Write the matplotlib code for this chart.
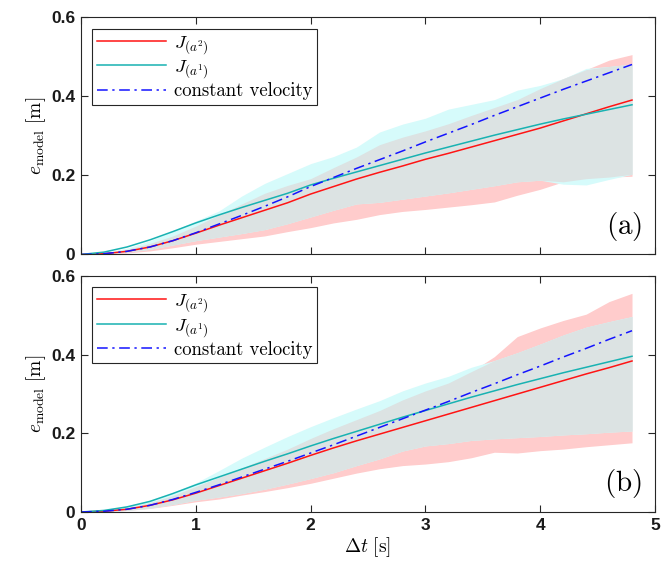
import numpy as np
import matplotlib
matplotlib.use("Agg")
import matplotlib.pyplot as plt

plt.rcParams['mathtext.fontset'] = 'cm'

# time grid (s)
t = [0.0, 0.2, 0.4, 0.6, 0.8, 1.0, 1.2, 1.4, 1.6, 1.8, 2.0, 2.2, 2.4,
     2.6, 2.8, 3.0, 3.2, 3.4, 3.6, 3.8, 4.0, 4.2, 4.4, 4.6, 4.8]

# ---- panel (a) ----
red_a = [0, 0.002, 0.008, 0.019, 0.035, 0.054, 0.074, 0.093, 0.112, 0.131, 0.153, 0.172, 0.191,
         0.208, 0.224, 0.241, 0.256, 0.272, 0.288, 0.304, 0.320, 0.338, 0.356, 0.374, 0.391]
teal_a = [0, 0.006, 0.019, 0.037, 0.058, 0.080, 0.100, 0.119, 0.137, 0.155, 0.176, 0.193, 0.209,
          0.225, 0.241, 0.257, 0.272, 0.287, 0.302, 0.316, 0.330, 0.343, 0.355, 0.367, 0.379]
blue_a = [0, 0.002, 0.008, 0.019, 0.035, 0.055, 0.077, 0.099, 0.122, 0.146, 0.172, 0.195, 0.218,
          0.240, 0.262, 0.285, 0.307, 0.329, 0.352, 0.374, 0.396, 0.418, 0.439, 0.460, 0.481]
red_lo_a = [0, 0.001, 0.004, 0.009, 0.017, 0.026, 0.033, 0.040, 0.047, 0.058, 0.068, 0.080, 0.089,
            0.101, 0.109, 0.114, 0.120, 0.126, 0.133, 0.150, 0.165, 0.184, 0.192, 0.196, 0.198]
red_hi_a = [0, 0.003, 0.013, 0.028, 0.047, 0.072, 0.100, 0.128, 0.155, 0.175, 0.192, 0.220, 0.247,
            0.278, 0.297, 0.313, 0.331, 0.352, 0.372, 0.392, 0.420, 0.445, 0.468, 0.492, 0.506]
cyan_lo_a = [0, 0.002, 0.006, 0.013, 0.024, 0.035, 0.044, 0.053, 0.063, 0.078, 0.095, 0.112, 0.128,
             0.132, 0.140, 0.148, 0.156, 0.165, 0.174, 0.184, 0.188, 0.178, 0.176, 0.190, 0.203]
cyan_hi_a = [0, 0.004, 0.016, 0.035, 0.060, 0.085, 0.110, 0.148, 0.180, 0.205, 0.230, 0.248, 0.272,
             0.310, 0.330, 0.345, 0.368, 0.380, 0.392, 0.416, 0.428, 0.445, 0.471, 0.476, 0.482]

# ---- panel (b) ----
red_b = [0, 0.002, 0.007, 0.017, 0.031, 0.048, 0.067, 0.086, 0.105, 0.124, 0.144, 0.163, 0.181,
         0.198, 0.215, 0.232, 0.249, 0.266, 0.283, 0.300, 0.317, 0.334, 0.351, 0.367, 0.384]
teal_b = [0, 0.004, 0.013, 0.027, 0.047, 0.069, 0.089, 0.109, 0.129, 0.148, 0.168, 0.187, 0.205,
          0.223, 0.241, 0.258, 0.275, 0.292, 0.308, 0.324, 0.339, 0.354, 0.368, 0.382, 0.396]
blue_b = [0, 0.002, 0.007, 0.017, 0.032, 0.050, 0.069, 0.089, 0.109, 0.129, 0.150, 0.171, 0.193,
          0.215, 0.237, 0.259, 0.281, 0.304, 0.326, 0.349, 0.371, 0.394, 0.416, 0.439, 0.461]
red_lo_b = [0, 0.001, 0.004, 0.009, 0.017, 0.026, 0.033, 0.043, 0.052, 0.062, 0.073, 0.086, 0.099,
            0.110, 0.118, 0.122, 0.128, 0.138, 0.152, 0.150, 0.156, 0.160, 0.166, 0.171, 0.176]
red_hi_b = [0, 0.003, 0.011, 0.024, 0.042, 0.065, 0.088, 0.112, 0.136, 0.160, 0.187, 0.212, 0.235,
            0.258, 0.285, 0.308, 0.328, 0.357, 0.395, 0.446, 0.468, 0.487, 0.503, 0.535, 0.556]
cyan_lo_b = [0, 0.001, 0.004, 0.010, 0.019, 0.030, 0.038, 0.047, 0.058, 0.071, 0.085, 0.100, 0.118,
             0.135, 0.155, 0.168, 0.174, 0.182, 0.186, 0.189, 0.192, 0.196, 0.199, 0.203, 0.206]
cyan_hi_b = [0, 0.004, 0.015, 0.030, 0.050, 0.074, 0.105, 0.137, 0.165, 0.192, 0.217, 0.240, 0.262,
             0.283, 0.308, 0.328, 0.345, 0.368, 0.385, 0.405, 0.427, 0.450, 0.470, 0.484, 0.497]

labels = [r'$J_{(a^2)}$', r'$J_{(a^1)}$', 'constant velocity']
c_red = '#FF1414'
c_teal = '#18B2B2'
c_blue = '#1414FF'
c_pink = '#FFCCCC'
c_cyan = '#D6FBFB'
c_gray = '#DCE3E3'

fig = plt.figure(figsize=(6.62, 5.71), dpi=100)
ax_a = fig.add_axes([0.1224, 0.5543, 0.867, 0.4151])
ax_b = fig.add_axes([0.1224, 0.1033, 0.867, 0.4133])


def draw(ax, red, teal, blue, rlo, rhi, clo, chi, tag):
    x = np.array(t)
    rlo, rhi, clo, chi = map(np.array, (rlo, rhi, clo, chi))
    ax.fill_between(x, rlo, rhi, color=c_pink, lw=0)
    ax.fill_between(x, clo, chi, color=c_cyan, lw=0)
    lo = np.maximum(rlo, clo)
    hi = np.minimum(rhi, chi)
    ax.fill_between(x, lo, hi, where=hi >= lo, interpolate=True, color=c_gray, lw=0)
    ax.plot(x, red, color=c_red, lw=1.1, label=labels[0])
    ax.plot(x, teal, color=c_teal, lw=1.1, label=labels[1])
    ax.plot(x, blue, color=c_blue, lw=1.1, ls=(0, (7, 3, 1.5, 3)), label=labels[2])
    ax.set_xlim(0, 5)
    ax.set_ylim(0, 0.6)
    ax.set_xticks([0, 1, 2, 3, 4, 5])
    ax.set_yticks([0, 0.2, 0.4, 0.6])
    ax.set_yticklabels(['0', '0.2', '0.4', '0.6'])
    ax.tick_params(direction='in', length=5, width=0.8, top=True, right=True,
                   labelsize=12.5, color='#262626', pad=4)
    for lab in ax.get_xticklabels() + ax.get_yticklabels():
        lab.set_fontweight('bold')
        lab.set_family('Liberation Sans')
        lab.set_color('#1a1a1a')
    for sp in ax.spines.values():
        sp.set_linewidth(0.8)
        sp.set_color('#262626')
    ax.set_ylabel(r'$e_{\rm model}\ [\rm m]$', fontsize=14, labelpad=2)
    ax.text(0.977, 0.05, tag, transform=ax.transAxes, ha='right', va='bottom', fontsize=21)
    leg = ax.legend(loc='upper left', handlelength=3.7, frameon=True,
                    fancybox=False, borderaxespad=0.6, labelspacing=0.1,
                    handletextpad=0.4, borderpad=0.25,
                    prop={'family': 'cmr10', 'size': 13.5})
    leg.get_frame().set_edgecolor('#262626')
    leg.get_frame().set_linewidth(0.8)
    leg.get_frame().set_alpha(1)


draw(ax_a, red_a, teal_a, blue_a, red_lo_a, red_hi_a, cyan_lo_a, cyan_hi_a, r'$\rm (a)$')
draw(ax_b, red_b, teal_b, blue_b, red_lo_b, red_hi_b, cyan_lo_b, cyan_hi_b, r'$\rm (b)$')
ax_a.set_xticklabels([])
ax_b.set_xlabel(r'$\Delta t\ [\rm s]$', fontsize=14, labelpad=2)

fig.savefig('out.png', dpi=100)
